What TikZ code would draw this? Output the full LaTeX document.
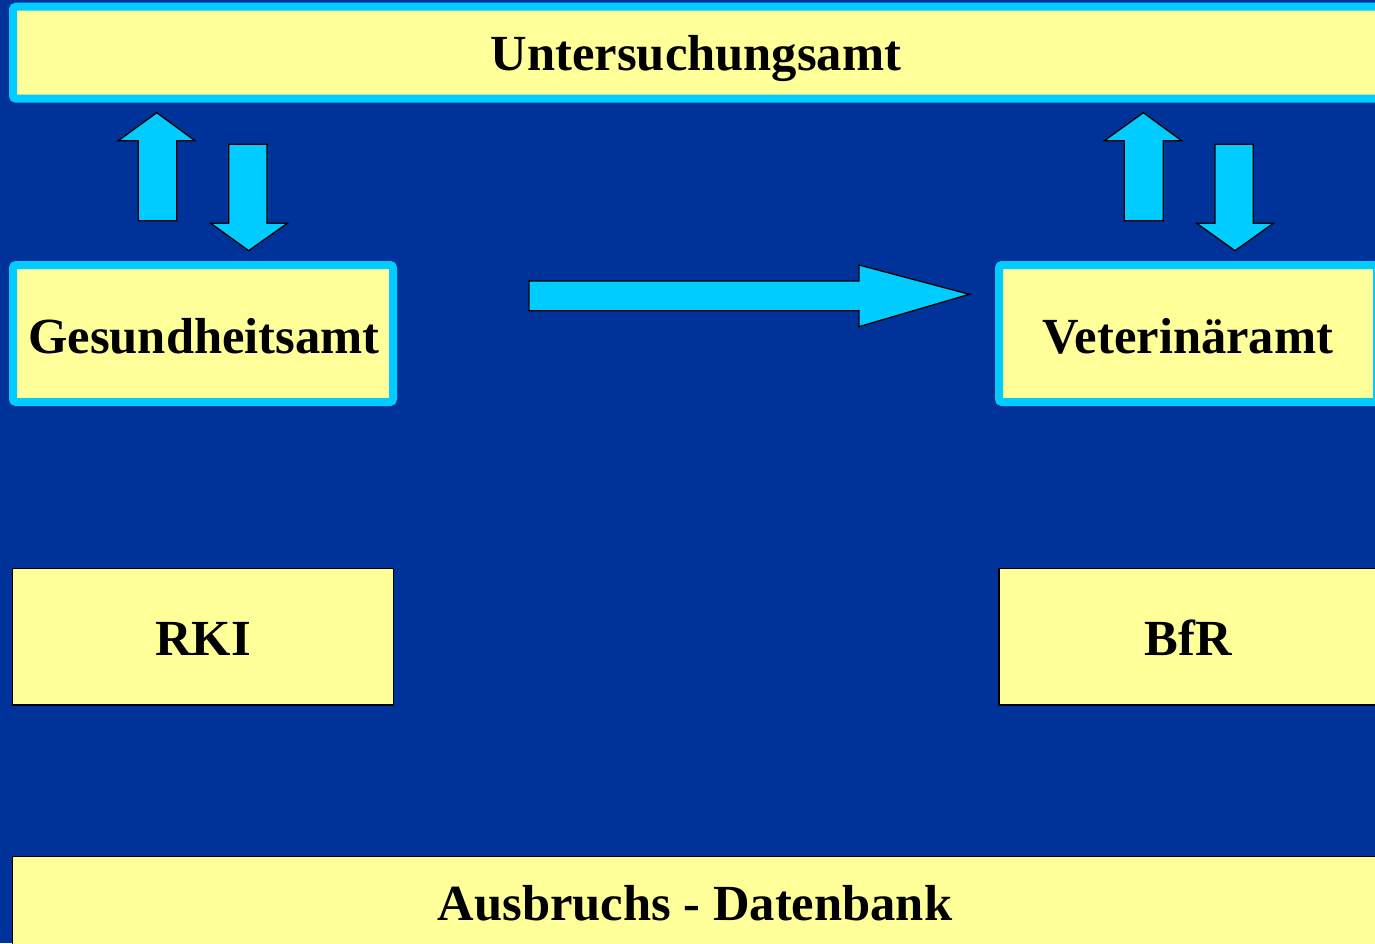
\documentclass[tikz,border=0pt]{standalone}
\usepackage{fontspec}
\setmainfont{Liberation Serif}
\definecolor{bg}{HTML}{003399}
\definecolor{cyanb}{HTML}{00CCFF}
\definecolor{yel}{HTML}{FFFF99}
\begin{document}
\begin{tikzpicture}[x=1pt,y=-1pt,
 cbox/.style={draw=cyanb, line width=8pt, fill=yel, rounded corners=3pt, inner sep=0pt, outer sep=0pt},
 pbox/.style={draw=black, line width=1.5pt, fill=yel, inner sep=0pt, outer sep=0pt},
 lbl/.style={anchor=base, font=\fontsize{50.6}{60}\selectfont\bfseries, inner sep=0pt},
 blk/.style={fill=cyanb, draw=black, line width=1.3pt, line join=miter}]
\useasboundingbox (0,0) rectangle (1375,943);
\clip (0,0) rectangle (1375,943);
\fill[bg] (0,0) rectangle (1375,943);
% boxes
\node[cbox, minimum width=1366pt, minimum height=92pt] (unt) at (696,52.7) {};
\node[cbox, minimum width=380pt, minimum height=137pt] (ges) at (203,333.5) {};
\node[cbox, minimum width=378pt, minimum height=137pt] (vet) at (1188,333.5) {};
\node[pbox, minimum width=381pt, minimum height=136.5pt] (rki) at (202.8,636.8) {};
\node[pbox, minimum width=378pt, minimum height=136.5pt] (bfr) at (1188,636.8) {};
\node[pbox, minimum width=1367pt, minimum height=140pt] (aus) at (696,926.7) {};
% labels
\node[lbl] (tunt) at (696,70.7) {Untersuchungsamt};
\node[lbl] (tges) at (204,353) {Gesundheitsamt};
\node[lbl] (tvet) at (1188,353.3) {Veterinäramt};
\node[lbl] (trki) at (203,655) {RKI};
\node[lbl] (tbfr) at (1188,655) {BfR};
\node[lbl] (taus) at (695,920) {Ausbruchs - Datenbank};
% block arrows
\draw[blk] (138.3,220.7) -- (138.3,140.7) -- (118.3,140.7) -- (156.7,112.7) -- (195,140.7) -- (176.7,140.7) -- (176.7,220.7) -- cycle;
\draw[blk] (228.7,144.3) -- (267,144.3) -- (267,223.3) -- (287.3,223.3) -- (248.7,250.7) -- (210.7,223.3) -- (228.7,223.3) -- cycle;
\draw[blk] (1124.3,220.7) -- (1124.3,140.7) -- (1104.3,140.7) -- (1143.3,112.7) -- (1181.7,140.7) -- (1163.3,140.7) -- (1163.3,220.7) -- cycle;
\draw[blk] (1215,144.3) -- (1253.3,144.3) -- (1253.3,223.3) -- (1273.3,223.3) -- (1235,250.7) -- (1196.7,223.3) -- (1215,223.3) -- cycle;
\draw[blk] (529,281) -- (859,281) -- (859,265) -- (969.3,294.3) -- (859,326.7) -- (859,310.7) -- (529,310.7) -- cycle;
\end{tikzpicture}
\end{document}
